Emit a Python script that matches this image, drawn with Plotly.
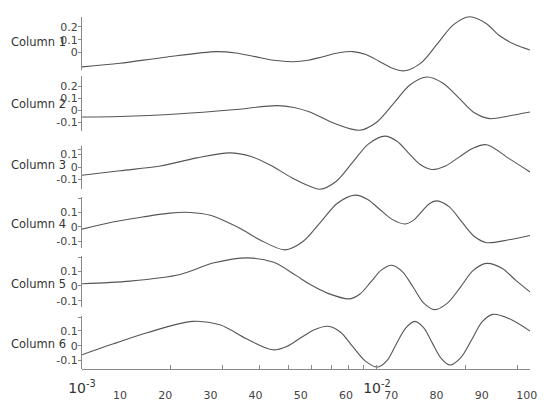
import plotly.graph_objects as go

# ---- data ----
x1 = [1.6, 10, 20, 31.4, 35.6, 39.9, 44, 48.3, 51.6, 54.9, 58.2, 61.5, 64.4, 67.3, 70.1, 73,
      76.6, 80.2, 83.8, 87.4, 91, 94, 97.5, 100.7]
col1 = [-0.11, -0.082, -0.035, 0.008, -0.003, -0.031, -0.059, -0.07, -0.059, -0.031, -0.003, 0.008,
        -0.014, -0.066, -0.118, -0.14, -0.079, 0.068, 0.216, 0.277, 0.225, 0.13, 0.06, 0.02]

x2 = [1.6, 10, 23.3, 35, 44.7, 48.5, 52, 57.5, 63, 66.7, 70.5, 74.2, 77.9, 81.4, 84.9, 88.3,
      91.8, 96, 100.7]
col2 = [-0.054, -0.05, -0.027, 0.006, 0.04, 0.025, -0.013, -0.108, -0.163, -0.099, 0.057, 0.212,
        0.276, 0.226, 0.105, -0.017, -0.067, -0.045, -0.013]

x3 = [1.6, 10, 18.9, 27, 34.3, 39, 43, 48, 52, 54.2, 57.8, 61.4, 65, 68.6, 71.2, 73.8, 76.4,
      79, 82, 85, 88, 91.1, 96, 100.7]
col3 = [-0.067, -0.03, 0.008, 0.074, 0.114, 0.085, 0.02, -0.086, -0.155, -0.18, -0.117, 0.035,
        0.187, 0.25, 0.21, 0.115, 0.02, -0.02, 0.009, 0.08, 0.15, 0.18, 0.07, -0.04]

x4 = [1.6, 8.4, 15, 21, 25.5, 30, 36.5, 41, 46.5, 50.4, 54.3, 58.1, 62, 64.8, 67.5, 70.3, 73,
      74.8, 76.6, 78.3, 80.1, 82.9, 85.6, 88.4, 91.1, 96, 100.7]
col4 = [-0.016, 0.034, 0.068, 0.095, 0.1, 0.08, -0.01, -0.091, -0.16, -0.104, 0.03, 0.164, 0.22,
        0.19, 0.12, 0.05, 0.02, 0.043, 0.1, 0.157, 0.18, 0.137, 0.035, -0.067, -0.11, -0.09, -0.06]

x5 = [1.6, 12.2, 23.3, 30.6, 38.3, 44, 49, 52, 56, 60.8, 63.1, 65.5, 67.8, 70.1, 72.5, 74.9,
      77.2, 79.6, 82.5, 85.4, 88.2, 91.1, 94.5, 97.5, 100.7]
col5 = [0.015, 0.033, 0.078, 0.155, 0.19, 0.16, 0.07, 0.011, -0.05, -0.087, -0.054, 0.027, 0.107,
        0.14, 0.096, -0.01, -0.116, -0.16, -0.114, -0.004, 0.107, 0.153, 0.12, 0.04, -0.04]

x6 = [1.6, 8.4, 16, 26.1, 32.1, 38.1, 43.8, 46.9, 49.9, 53, 56, 58.8, 61.5, 64.3, 67, 69.1,
      71.1, 73.2, 75.2, 77.2, 79.1, 81.1, 83, 85.4, 87.8, 90.1, 92.5, 96.5, 100.7]
col6 = [-0.061, 0.011, 0.087, 0.163, 0.14, 0.044, -0.028, -0.005, 0.051, 0.107, 0.13, 0.09, -0.007,
        -0.104, -0.144, -0.099, 0.01, 0.118, 0.163, 0.12, 0.017, -0.087, -0.13, -0.08, 0.04, 0.16,
        0.21, 0.176, 0.098]

names = ["Column 1", "Column 2", "Column 3", "Column 4", "Column 5", "Column 6"]
xs = [x1, x2, x3, x4, x5, x6]
cols = [col1, col2, col3, col4, col5, col6]

x_ticks = [10, 20, 30, 40, 50, 60, 70, 80, 90, 100]
log_ticks = [1e-3, 2e-3, 3e-3, 4e-3, 5e-3, 6e-3, 7e-3, 8e-3, 9e-3, 1e-2, 2e-2, 3e-2]
log_text = ["10<sup>-3</sup>"] + [" "] * 8 + ["10<sup>-2</sup>", " ", " "]

# ---- per-row visible axis layout ----
domains = [(0.845, 0.995), (0.671, 0.827), (0.508, 0.630), (0.341, 0.485), (0.174, 0.318), (0.0, 0.150)]
ranges = [(-0.133, 0.277), (-0.173, 0.282), (-0.179, 0.17), (-0.149, 0.205), (-0.145, 0.2), (-0.157, 0.2)]
tickvals = [[0, 0.1, 0.2], [-0.1, 0, 0.1, 0.2], [-0.1, 0, 0.1, 0.14], [-0.1, 0, 0.1, 0.2],
            [-0.1, 0, 0.1, 0.19], [-0.1, 0, 0.1, 0.19]]
ticktext = [["0", "0.1", "0.2"], ["-0.1", "0", "0.1", "0.2"], ["-0.1", "0", "0.1", " "],
            ["-0.1", "0", "0.1", " "], ["-0.1", "0", "0.1", " "], ["-0.1", "0", "0.1", " "]]
label_y = [0.08, 0.054, 0.018, 0.02, 0.01, 0.013]

FONT = "DejaVu Sans"
AX = "#8a8a8a"

fig = go.Figure()
# the page body adds an 8px offset, so margins are shifted to compensate
layout = dict(
    width=550, height=410,
    margin=dict(l=74, r=28, t=2, b=49),
    paper_bgcolor="white", plot_bgcolor="rgba(0,0,0,0)",
    showlegend=False,
    font=dict(family=FONT, size=11, color="#444"),
)

for i in range(6):
    k = i + 1
    d0, d1 = domains[i]
    r0, r1 = ranges[i]
    per = (r1 - r0) / (d1 - d0)
    # data axis spans the whole plot height so curves can spill past the row
    full = [r0 - d0 * per, r1 + (1 - d1) * per]
    ykey = "yaxis" if k == 1 else f"yaxis{k}"
    yax = dict(domain=[0, 1], range=full, visible=False, fixedrange=True)
    if k > 1:
        yax["overlaying"] = "y"
    layout[ykey] = yax

    fig.add_trace(go.Scatter(
        x=xs[i], y=cols[i], mode="lines", name=names[i],
        line=dict(color="#555555", width=1.1, shape="spline", smoothing=0.9),
        xaxis="x", yaxis="y" if k == 1 else f"y{k}", hoverinfo="skip"
    ))

    # visible row axis
    vk = k + 6
    layout[f"yaxis{vk}"] = dict(
        domain=[d0, d1], range=[r0, r1], anchor="x",
        showline=True, linecolor=AX, linewidth=1,
        ticks="outside", ticklen=3, tickcolor=AX,
        tickvals=tickvals[i], ticktext=ticktext[i],
        showgrid=False, zeroline=False, ticklabelstandoff=-2,
        tickfont=dict(size=11, color="#444"),
    )
    fig.add_trace(go.Scatter(x=[], y=[], xaxis="x", yaxis=f"y{vk}", showlegend=False))

    fig.add_annotation(
        text=names[i], xref="paper", yref=f"y{vk}",
        x=-0.163, y=label_y[i], xanchor="left", yanchor="middle",
        showarrow=False, font=dict(family=FONT, size=11.5, color="#333")
    )

layout["xaxis"] = dict(
    domain=[0, 1], range=[1.6, 100.7], anchor="y",
    tickvals=x_ticks, ticks="", showline=False, showgrid=False, zeroline=False,
    ticklabelstandoff=18, tickfont=dict(size=11, color="#444"),
)
layout["xaxis2"] = dict(
    type="log", range=[-3, -1.481], overlaying="x", anchor="y", side="bottom",
    showline=True, linecolor=AX, linewidth=1,
    ticks="inside", ticklen=4, tickcolor=AX,
    tickvals=log_ticks, ticktext=log_text, tickangle=0,
    showgrid=False, zeroline=False,
    ticklabelstandoff=6, tickfont=dict(size=14, color="#333"),
)
fig.add_trace(go.Scatter(x=[], y=[], xaxis="x2", yaxis="y", showlegend=False))

fig.update_layout(**layout)
fig.write_html("out.html")
